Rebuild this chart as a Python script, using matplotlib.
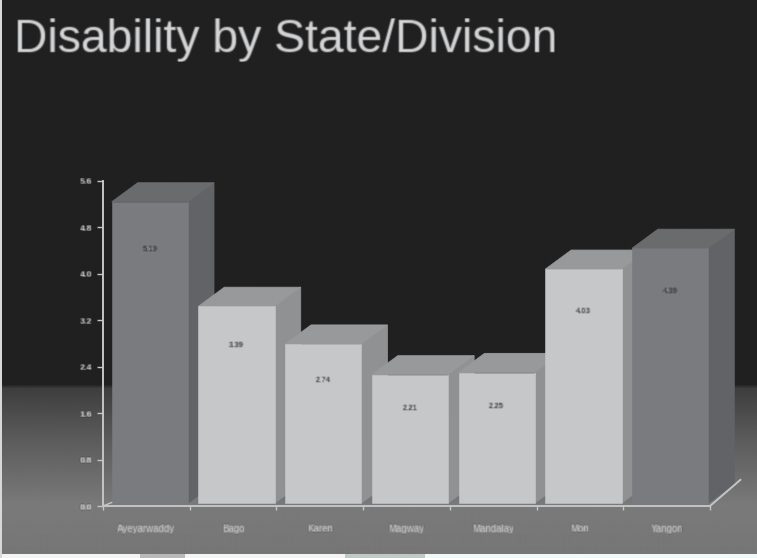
import numpy as np
import matplotlib
matplotlib.use('Agg')
import matplotlib.pyplot as plt
from matplotlib.patches import Polygon, Rectangle

plt.rcParams['font.family'] = ['Liberation Sans', 'DejaVu Sans']

# Data
states = ['Ayeyarwaddy', 'Bago', 'Karen', 'Magway', 'Mandalay', 'Mon', 'Yangon']
disability = [5.19, 3.39, 2.74, 2.21, 2.25, 4.03, 4.39]
y_ticks = [0.0, 0.8, 1.6, 2.4, 3.2, 4.0, 4.8, 5.6]
dark_bars = ['Ayeyarwaddy', 'Yangon']

W, H = 757, 558


def soften(img, dpi):
    # the reference is a blurry scan, so smear the text a little
    pad = 3
    out = np.pad(img, ((pad, pad), (pad, pad), (0, 0)))
    kernel = np.array([1, 3, 1]) / 5
    for axis in (0, 1):
        out = np.apply_along_axis(lambda m: np.convolve(m, kernel, mode='same'), axis, out)
    return out, -pad, -pad


fig = plt.figure(figsize=(W / 100, H / 100), dpi=100, facecolor='#221f20')

# Slide background, pixel coordinates
bg = fig.add_axes([0, 0, 1, 1], zorder=0)
rows = np.arange(H)
shade = np.interp(rows, [0, 384, 388, 440, 505, 553], [32, 32, 62, 92, 122, 118])
bg.imshow(np.repeat(shade[:, None], 4, axis=1), cmap='gray', vmin=0, vmax=255,
          extent=[0, W, H, 0], aspect='auto', interpolation='bilinear')
bg.add_patch(Rectangle((0, 554), W, 4, color='#f3f5f5', lw=0))
bg.add_patch(Rectangle((140, 554), 45, 4, color='#b9b9b9', lw=0))
bg.add_patch(Rectangle((345, 554), 80, 4, color='#bfcac6', lw=0))
bg.add_patch(Rectangle((425, 554), W - 425, 4, color='#eefafa', lw=0))
bg.add_patch(Rectangle((0, 0), 1.5, H, color='#d8d8d8', lw=0))
bg.set_xlim(0, W)
bg.set_ylim(H, 0)
bg.axis('off')

# Chart axes sit on the pixel span of the axis lines
left, right, bottom, top = 103, 710, 506, 181
ax = fig.add_axes([left / W, 1 - bottom / H, (right - left) / W, (bottom - top) / H], zorder=1)
ax.set_xlim(0, len(states))
ax.set_ylim(0, y_ticks[-1])
ax.patch.set_alpha(0)

# Fake 3D: depth and lift are in data units
depth_x, depth_y = 0.30, 0.33
lift_x, lift_y = 0.04, 0.05
bar_w = 0.88

for i, (name, v) in enumerate(zip(states, disability)):
    x0 = i + lift_x + (1 - bar_w) / 2
    x1 = x0 + bar_w
    y0 = lift_y
    y1 = lift_y + v
    if name in dark_bars:
        front, side, roof = '#797b7f', '#626366', '#6a6b6d'
    else:
        front, side, roof = '#c6c7c9', '#909193', '#98999b'
    z = 2 + i * 2
    ax.add_patch(Polygon([(x1, y0), (x1 + depth_x, y0 + depth_y), (x1 + depth_x, y1 + depth_y), (x1, y1)],
                         fc=side, ec=side, lw=0.6, zorder=z, clip_on=False))
    ax.add_patch(Polygon([(x0, y1), (x1, y1), (x1 + depth_x, y1 + depth_y), (x0 + depth_x, y1 + depth_y)],
                         fc=roof, ec=roof, lw=0.6, zorder=z, clip_on=False))
    ax.bar(x0, v, bar_w, bottom=y0, align='edge', color=front, ec=front, lw=0.4, zorder=z + 1, clip_on=False)
    ax.text((x0 + x1) / 2, y1 - (0.4 + 0.08 * v), f'{v:.2f}', ha='center', va='center',
            fontsize=5.5, fontweight='bold', color='#3a3a3c', zorder=z + 1, agg_filter=soften)

# Axes
line_c = '#c4c5c7'
for s in ['top', 'right']:
    ax.spines[s].set_visible(False)
for s in ['left', 'bottom']:
    ax.spines[s].set_color(line_c)
    ax.spines[s].set_linewidth(1.4)
    ax.spines[s].set_zorder(30)
ax.plot([len(states), len(states) + 0.35], [0, 0.45], color=line_c, lw=1.4, clip_on=False, zorder=30)
ax.plot([0, 0.1], [0, 0.06], color=line_c, lw=1.0, clip_on=False, zorder=30)

ax.set_yticks(y_ticks)
ax.set_yticklabels([f'{t:.1f}' for t in y_ticks], fontsize=6.5, fontweight='bold', color='#d6d6d6')
ax.set_xticks(range(len(states) + 1))
ax.set_xticklabels([])
ax.set_xticks(np.arange(len(states)) + 0.5, minor=True)
ax.set_xticklabels(states, minor=True, fontsize=7, color='#d2d3d5')
ax.tick_params(axis='y', length=4, width=1, color=line_c, pad=4)
ax.tick_params(axis='x', which='major', length=3, width=1, color=line_c)
ax.tick_params(axis='x', which='minor', length=0, pad=13)
for label in ax.get_yticklabels() + ax.get_xticklabels(minor=True):
    label.set_agg_filter(soften)

fig.text(14 / W, 1 - 52 / H, 'Disability by State/Division', fontsize=33.3, color='#d4d5d7',
         ha='left', va='baseline', agg_filter=soften)

fig.savefig('out.png', dpi=100, facecolor=fig.get_facecolor())
